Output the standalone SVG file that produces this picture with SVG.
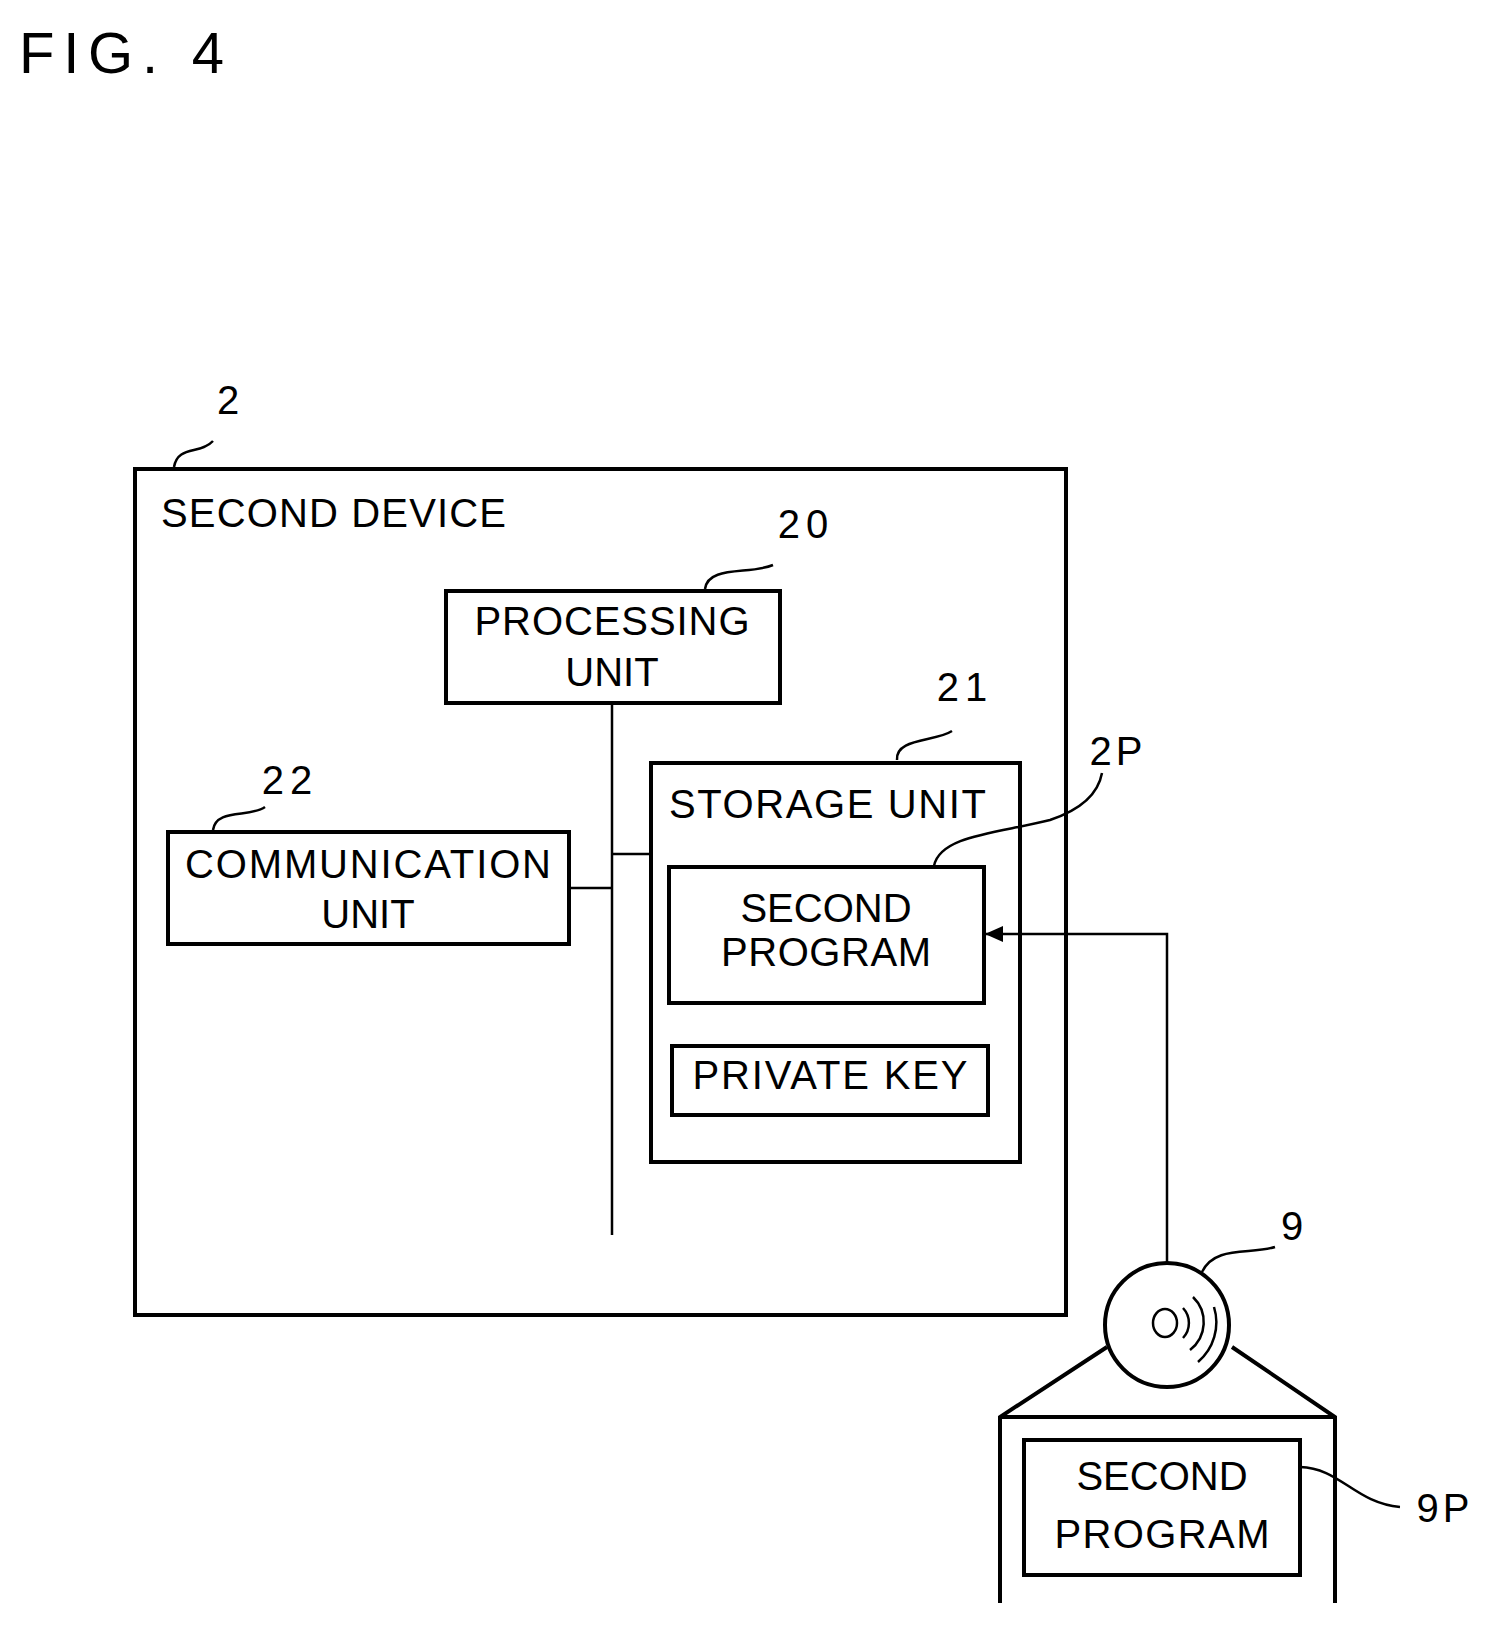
<svg xmlns="http://www.w3.org/2000/svg" width="1494" height="1627" viewBox="0 0 1494 1627">
<style>
.b{fill:none;stroke:#000;stroke-width:4}
.l{fill:none;stroke:#000;stroke-width:2.5}
text{font-family:"Liberation Sans",Arial,sans-serif;font-size:40px;fill:#000}
.c{text-anchor:middle}
</style>
<defs><marker id="ah" markerWidth="18" markerHeight="16" refX="17" refY="8" orient="auto" markerUnits="userSpaceOnUse" viewBox="0 0 18 16"><path d="M0,0 L18,8 L0,16 z" fill="#000"/></marker></defs>
<rect width="1494" height="1627" fill="#fff"/>
<text x="19" y="73" style="font-size:58px" textLength="205">FIG. 4</text>
<g id="n2"><rect class="b" x="135" y="469" width="931" height="846"/>
<text x="161" y="527" textLength="345">SECOND DEVICE</text>
<text x="228" y="414" class="c">2</text><path class="l" d="M174,467 C178,445 200,455 213,441"/></g>
<g id="n20"><rect class="b" x="446" y="591" width="334" height="112"/>
<text x="612" y="635" class="c" textLength="275">PROCESSING</text><text x="612" y="686" class="c">UNIT</text>
<text x="806" y="538" class="c" letter-spacing="6">20</text><path class="l" d="M705,589 C708,565 750,575 773,565"/></g>
<g id="n22"><rect class="b" x="168" y="832" width="401" height="112"/>
<text x="368" y="878" class="c" textLength="366">COMMUNICATION</text><text x="368" y="928" class="c">UNIT</text>
<text x="290" y="794" class="c" letter-spacing="6">22</text><path class="l" d="M213,830 C216,808 250,818 265,807"/></g>
<g id="n21"><rect class="b" x="651" y="763" width="369" height="399"/>
<text x="669" y="818" textLength="317">STORAGE UNIT</text>
<text x="965" y="701" class="c" letter-spacing="6">21</text><path class="l" d="M897,760 C895,738 935,742 952,731"/></g>
<g id="n2P"><rect class="b" x="669" y="867" width="315" height="136"/>
<text x="826" y="922" class="c">SECOND</text><text x="826" y="966" class="c" textLength="210">PROGRAM</text>
<text x="1118" y="765" class="c" letter-spacing="4">2P</text><path class="l" d="M934,866 C940,835 1000,833 1050,820 C1080,810 1098,795 1102,773"/></g>
<g id="pk"><rect class="b" x="672" y="1046" width="316" height="69"/>
<text x="830" y="1089" class="c" textLength="275">PRIVATE KEY</text></g>
<g id="n9"><circle class="b" cx="1167" cy="1325" r="62"/>
<ellipse class="l" cx="1165" cy="1323" rx="12" ry="14"/>
<path class="l" d="M1183,1308 A22,22 0 0 1 1183,1338 M1193,1297 A35,35 0 0 1 1190,1350 M1214,1307 A52,52 0 0 1 1198,1362"/>
<text x="1292" y="1240" class="c">9</text><path class="l" d="M1202,1272 C1215,1245 1250,1255 1275,1247"/></g>
<g id="n9P"><path class="b" d="M1107,1347 L1000,1417 L1000,1603 M1232,1347 L1335,1417 L1335,1603 M1000,1417 L1335,1417"/>
<rect class="b" x="1024" y="1440" width="276" height="135"/>
<text x="1162" y="1490" class="c">SECOND</text><text x="1162" y="1548" class="c" textLength="215">PROGRAM</text>
<text x="1445" y="1522" class="c" letter-spacing="4">9P</text><path class="l" d="M1300,1467 C1340,1468 1355,1503 1400,1507"/></g>
<g id="connectors">
<path class="l" d="M612,703 L612,1235 M612,854 L651,854 M569,888 L612,888"/>
<path class="l" d="M1167,1263 L1167,934 L986,934" marker-end="url(#ah)"/>
</g>
</svg>
